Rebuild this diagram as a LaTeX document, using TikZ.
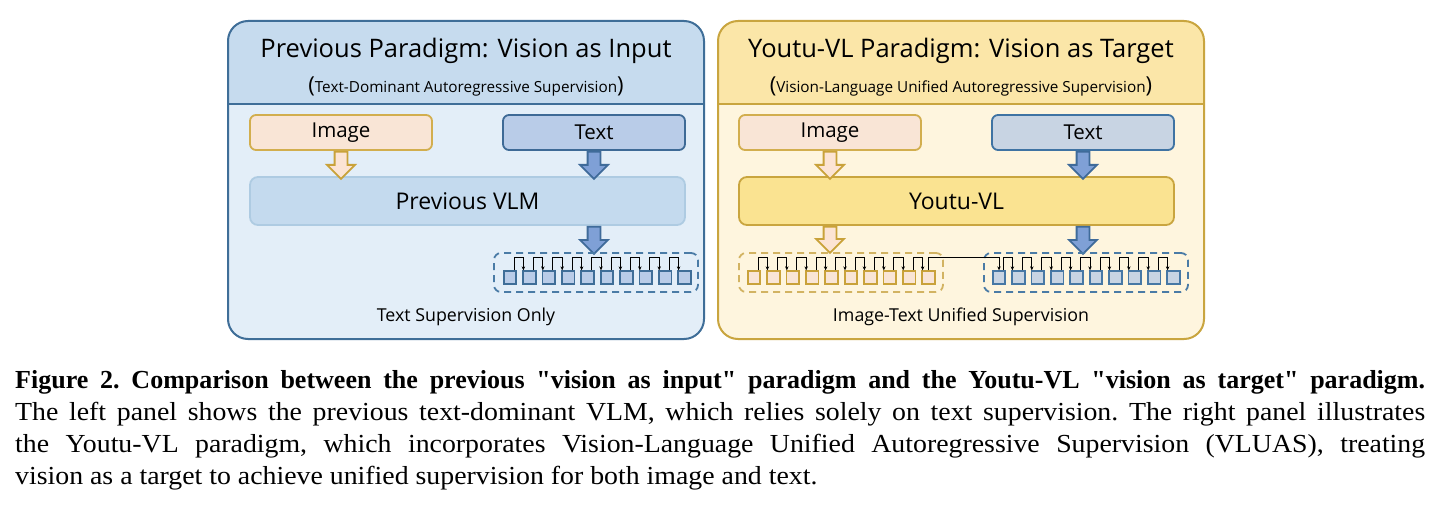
\documentclass[tikz,border=0pt]{standalone}
\usepackage{fontspec}
\setmainfont{Open Sans}
\newfontfamily\capfont[FakeStretch=1.07]{Liberation Serif}
\newfontfamily\capbold{Liberation Serif}
\usetikzlibrary{positioning,shapes.arrows,arrows.meta}
\definecolor{lline}{HTML}{3F6E98}
\definecolor{lhead}{HTML}{C6DBEE}
\definecolor{lbody}{HTML}{E3EEF8}
\definecolor{rline}{HTML}{C9A53F}
\definecolor{rhead}{HTML}{FBE6A8}
\definecolor{rbody}{HTML}{FEF5DE}
\definecolor{imgfill}{HTML}{F9E5D6}
\definecolor{imgline}{HTML}{D2AE4E}
\definecolor{txtfill}{HTML}{B9CCE8}
\definecolor{txtline}{HTML}{3E6A96}
\definecolor{rtxtfill}{HTML}{C8D4E3}
\definecolor{rtxtline}{HTML}{3F73A3}
\definecolor{vlmfill}{HTML}{C4DAEE}
\definecolor{vlmline}{HTML}{AECBE2}
\definecolor{youtufill}{HTML}{FAE391}
\definecolor{tarrfill}{HTML}{7FA0D6}
\definecolor{tarrline}{HTML}{3F6B9A}
\definecolor{iarrfill}{HTML}{FCE4D4}
\definecolor{iarrline}{HTML}{C9A23A}
\definecolor{tokline}{HTML}{4778A5}
\definecolor{grpline}{HTML}{4A7BA6}
\definecolor{igrpline}{HTML}{D2B362}
\tikzset{
  panel/.style 2 args={draw=#1, line width=2, rounded corners=20, minimum height=318, inner sep=0,
    path picture={\fill[#2, sharp corners] (path picture bounding box.north west) rectangle ([yshift=-83pt]path picture bounding box.north east);
      \draw[#1, line width=2, sharp corners] ([yshift=-83pt]path picture bounding box.north west) -- ([yshift=-83pt]path picture bounding box.north east);}},
  title/.style={anchor=base, font=\fontsize{25.5}{29}\selectfont},
  subtitle/.style={anchor=base, font=\fontsize{15.3}{18}\selectfont},
  box/.style={draw, line width=1.8, rounded corners=6, minimum height=35, minimum width=182, inner sep=0, font=\fontsize{20.5}{24}\selectfont},
  model/.style={draw, line width=1.8, rounded corners=8, minimum height=48, minimum width=435, inner sep=0, font=\fontsize{23}{26}\selectfont},
  flow/.style={single arrow, shape border rotate=270, line width=1.8, minimum height=27, minimum width=0, inner xsep=5.5, inner ysep=0, single arrow head extend=7.5, anchor=tail},
  tgroup/.style={draw, dash pattern=on 7pt off 5pt, line width=1.8, rounded corners=7, minimum width=204, minimum height=39},
  tok/.style={draw, line width=1.8, minimum size=12.5, inner sep=0},
  link/.style={draw=black, line width=0.9, -{Stealth[length=4pt,width=3.5pt]}},
  note/.style={anchor=base, font=\fontsize{17.8}{20}\selectfont},
  capline/.style={anchor=base west, inner sep=0, font=\capfont\fontsize{26}{32}\selectfont\frenchspacing}
}
\begin{document}
\begin{tikzpicture}[x=1pt, y=-1pt]
\path[fill=white] (0,0) rectangle (1440,516);
\useasboundingbox (0,0) rectangle (1440,516);
\node[panel={lline}{lhead}, fill=lbody, minimum width=476] (lpanel) at (466,180){};
\node[panel={rline}{rhead}, fill=rbody, minimum width=486] (rpanel) at (961,180){};
\node[title] (ltitle) at (466,58){Previous Paradigm: Vision as Input};
\node[subtitle] (lsub) at (466,93){{\fontsize{22}{24}\selectfont(}Text-Dominant Autoregressive Supervision{\fontsize{22}{24}\selectfont)}};
\node[title] (rtitle) at (961,58){Youtu-VL Paradigm: Vision as Target};
\node[subtitle] (rsub) at (961,93){{\fontsize{22}{24}\selectfont(}Vision-Language Unified Autoregressive Supervision{\fontsize{22}{24}\selectfont)}};
\node[box, fill=imgfill, draw=imgline] (limg) at (341,132.5){Image};
\node[box, fill=txtfill, draw=txtline] (ltxt) at (594,132.5){Text};
\node[model, fill=vlmfill, draw=vlmline] (lvlm) at (467.5,201){Previous VLM};
\node[box, fill=imgfill, draw=imgline] (rimg) at (830,132.5){Image};
\node[box, fill=rtxtfill, draw=rtxtline] (rtxt) at (1083,132.5){Text};
\node[model, fill=youtufill, draw=rline] (rvlm) at (956.5,201){Youtu-VL};
\node[flow, fill=iarrfill, draw=iarrline] (la1) at (limg.south){};
\node[flow, fill=tarrfill, draw=tarrline] (la2) at (ltxt.south){};
\node[flow, fill=tarrfill, draw=tarrline] (la3) at (ltxt |- lvlm.south){};
\node[flow, fill=iarrfill, draw=iarrline] (ra1) at (rimg.south){};
\node[flow, fill=tarrfill, draw=tarrline] (ra2) at (rtxt.south){};
\node[flow, fill=iarrfill, draw=iarrline, minimum height=26] (ra3) at (rimg |- rvlm.south){};
\node[flow, fill=tarrfill, draw=tarrline] (ra4) at (rtxt |- rvlm.south){};
\node[tgroup, draw=grpline] (lgrp) at (596,272.5){};
\node[tgroup, draw=igrpline] (rigrp) at (841,272.5){};
\node[tgroup, draw=grpline] (rtgrp) at (1086,272.5){};
\node[tok, fill=txtfill, draw=lline] (lt1) at (510,277.5){};
\node[tok, fill=txtfill, draw=lline] (lt2) at (529.4,277.5){};
\node[tok, fill=txtfill, draw=lline] (lt3) at (548.8,277.5){};
\node[tok, fill=txtfill, draw=lline] (lt4) at (568.2,277.5){};
\node[tok, fill=txtfill, draw=lline] (lt5) at (587.6,277.5){};
\node[tok, fill=txtfill, draw=lline] (lt6) at (607,277.5){};
\node[tok, fill=txtfill, draw=lline] (lt7) at (626.4,277.5){};
\node[tok, fill=txtfill, draw=lline] (lt8) at (645.8,277.5){};
\node[tok, fill=txtfill, draw=lline] (lt9) at (665.2,277.5){};
\node[tok, fill=txtfill, draw=lline] (lt10) at (684.6,277.5){};
\draw[link] ([xshift=4pt]lt1.north) -- ++(0,-12.5) -| ([xshift=-6pt]lt2.north);
\draw[link] ([xshift=4pt]lt2.north) -- ++(0,-12.5) -| ([xshift=-6pt]lt3.north);
\draw[link] ([xshift=4pt]lt3.north) -- ++(0,-12.5) -| ([xshift=-6pt]lt4.north);
\draw[link] ([xshift=4pt]lt4.north) -- ++(0,-12.5) -| ([xshift=-6pt]lt5.north);
\draw[link] ([xshift=4pt]lt5.north) -- ++(0,-12.5) -| ([xshift=-6pt]lt6.north);
\draw[link] ([xshift=4pt]lt6.north) -- ++(0,-12.5) -| ([xshift=-6pt]lt7.north);
\draw[link] ([xshift=4pt]lt7.north) -- ++(0,-12.5) -| ([xshift=-6pt]lt8.north);
\draw[link] ([xshift=4pt]lt8.north) -- ++(0,-12.5) -| ([xshift=-6pt]lt9.north);
\draw[link] ([xshift=4pt]lt9.north) -- ++(0,-12.5) -| ([xshift=-6pt]lt10.north);
\node[tok, fill=imgfill, draw=iarrline] (ri1) at (754,277.5){};
\node[tok, fill=imgfill, draw=iarrline] (ri2) at (773.4,277.5){};
\node[tok, fill=imgfill, draw=iarrline] (ri3) at (792.8,277.5){};
\node[tok, fill=imgfill, draw=iarrline] (ri4) at (812.2,277.5){};
\node[tok, fill=imgfill, draw=iarrline] (ri5) at (831.6,277.5){};
\node[tok, fill=imgfill, draw=iarrline] (ri6) at (851,277.5){};
\node[tok, fill=imgfill, draw=iarrline] (ri7) at (870.4,277.5){};
\node[tok, fill=imgfill, draw=iarrline] (ri8) at (889.8,277.5){};
\node[tok, fill=imgfill, draw=iarrline] (ri9) at (909.2,277.5){};
\node[tok, fill=imgfill, draw=iarrline] (ri10) at (928.6,277.5){};
\draw[link] ([xshift=4pt]ri1.north) -- ++(0,-12.5) -| ([xshift=-6pt]ri2.north);
\draw[link] ([xshift=4pt]ri2.north) -- ++(0,-12.5) -| ([xshift=-6pt]ri3.north);
\draw[link] ([xshift=4pt]ri3.north) -- ++(0,-12.5) -| ([xshift=-6pt]ri4.north);
\draw[link] ([xshift=4pt]ri4.north) -- ++(0,-12.5) -| ([xshift=-6pt]ri5.north);
\draw[link] ([xshift=4pt]ri5.north) -- ++(0,-12.5) -| ([xshift=-6pt]ri6.north);
\draw[link] ([xshift=4pt]ri6.north) -- ++(0,-12.5) -| ([xshift=-6pt]ri7.north);
\draw[link] ([xshift=4pt]ri7.north) -- ++(0,-12.5) -| ([xshift=-6pt]ri8.north);
\draw[link] ([xshift=4pt]ri8.north) -- ++(0,-12.5) -| ([xshift=-6pt]ri9.north);
\draw[link] ([xshift=4pt]ri9.north) -- ++(0,-12.5) -| ([xshift=-6pt]ri10.north);
\node[tok, fill=rtxtfill, draw=tokline] (rt1) at (999,277.5){};
\node[tok, fill=rtxtfill, draw=tokline] (rt2) at (1018.4,277.5){};
\node[tok, fill=rtxtfill, draw=tokline] (rt3) at (1037.8,277.5){};
\node[tok, fill=rtxtfill, draw=tokline] (rt4) at (1057.2,277.5){};
\node[tok, fill=rtxtfill, draw=tokline] (rt5) at (1076.6,277.5){};
\node[tok, fill=rtxtfill, draw=tokline] (rt6) at (1096,277.5){};
\node[tok, fill=rtxtfill, draw=tokline] (rt7) at (1115.4,277.5){};
\node[tok, fill=rtxtfill, draw=tokline] (rt8) at (1134.8,277.5){};
\node[tok, fill=rtxtfill, draw=tokline] (rt9) at (1154.2,277.5){};
\node[tok, fill=rtxtfill, draw=tokline] (rt10) at (1173.6,277.5){};
\draw[link] (ri10.north) -- ++(0,-12.5) -| (rt1.north);
\draw[link] ([xshift=4pt]rt1.north) -- ++(0,-12.5) -| ([xshift=-6pt]rt2.north);
\draw[link] ([xshift=4pt]rt2.north) -- ++(0,-12.5) -| ([xshift=-6pt]rt3.north);
\draw[link] ([xshift=4pt]rt3.north) -- ++(0,-12.5) -| ([xshift=-6pt]rt4.north);
\draw[link] ([xshift=4pt]rt4.north) -- ++(0,-12.5) -| ([xshift=-6pt]rt5.north);
\draw[link] ([xshift=4pt]rt5.north) -- ++(0,-12.5) -| ([xshift=-6pt]rt6.north);
\draw[link] ([xshift=4pt]rt6.north) -- ++(0,-12.5) -| ([xshift=-6pt]rt7.north);
\draw[link] ([xshift=4pt]rt7.north) -- ++(0,-12.5) -| ([xshift=-6pt]rt8.north);
\draw[link] ([xshift=4pt]rt8.north) -- ++(0,-12.5) -| ([xshift=-6pt]rt9.north);
\draw[link] ([xshift=4pt]rt9.north) -- ++(0,-12.5) -| ([xshift=-6pt]rt10.north);
\node[note] (lnote) at (466,321){Text Supervision Only};
\node[note] (rnote) at (961,321){Image-Text Unified Supervision};
\node[capline] (cap1) at (15,388){\capbold\bfseries\makebox[1410pt][s]{Figure 2. Comparison between the previous "vision as input" paradigm and the Youtu-VL "vision as target" paradigm.}};
\node[capline] (cap2) at (15,420){\makebox[1410pt][s]{The left panel shows the previous text-dominant VLM, which relies solely on text supervision. The right panel illustrates}};
\node[capline] (cap3) at (15,452){\makebox[1410pt][s]{the Youtu-VL paradigm, which incorporates Vision-Language Unified Autoregressive Supervision (VLUAS), treating}};
\node[capline] (cap4) at (15,484){vision as a target to achieve unified supervision for both image and text.};
\end{tikzpicture}
\end{document}
